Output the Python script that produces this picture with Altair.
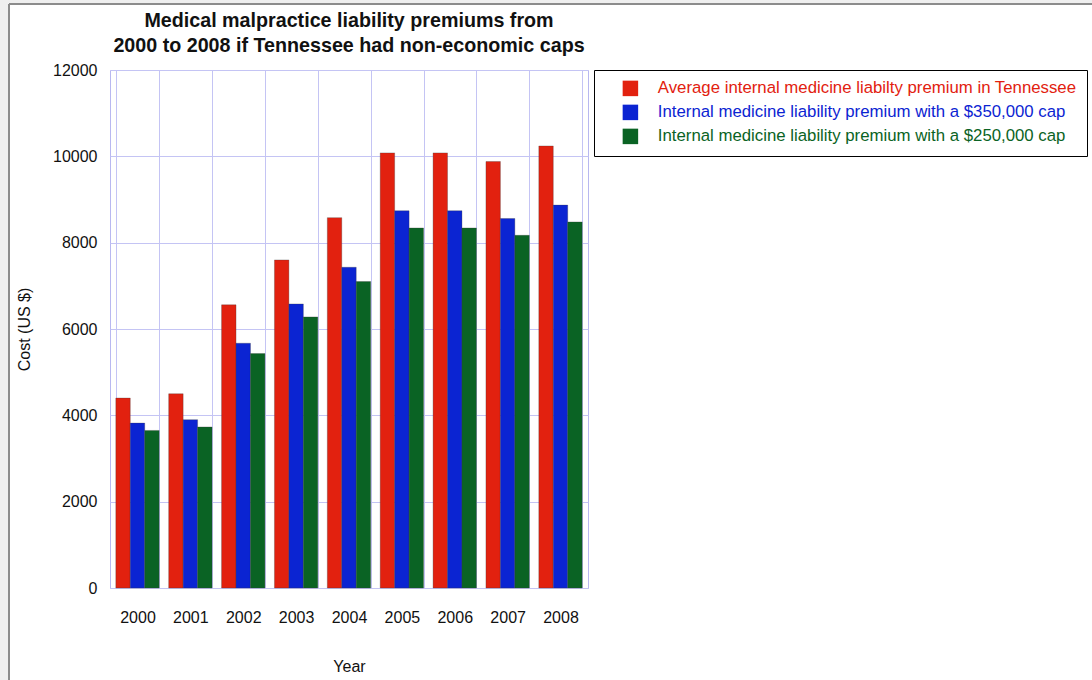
import altair as alt
import pandas as pd

# Annual internal medicine malpractice premiums (US $)
years = ["2000", "2001", "2002", "2003", "2004", "2005", "2006", "2007", "2008"]
series_names = [
    "Average internal medicine liabilty premium in Tennessee",
    "Internal medicine liability premium with a $350,000 cap",
    "Internal medicine liability premium with a $250,000 cap",
]
average_premium = [4400, 4500, 6560, 7600, 8580, 10080, 10080, 9880, 10240]
cap_350k = [3820, 3900, 5670, 6580, 7430, 8740, 8740, 8560, 8870]
cap_250k = [3650, 3730, 5430, 6280, 7100, 8340, 8340, 8170, 8480]
series_colors = ["#e2210f", "#0b24d2", "#0a6324"]

rows = []
for name, values in zip(series_names, [average_premium, cap_350k, cap_250k]):
    for year, value in zip(years, values):
        rows.append({"year": year, "series": name, "cost": value})
df = pd.DataFrame(rows)

FONT = "Liberation Sans"
GRID = "#c4c4f4"

label_color_expr = (
    f"datum.label == '{series_names[0]}' ? '{series_colors[0]}' : "
    f"datum.label == '{series_names[1]}' ? '{series_colors[1]}' : '{series_colors[2]}'"
)

bars = alt.Chart(df).mark_bar(stroke="#3a3a3a", strokeWidth=0.5, strokeOpacity=0.6).encode(
    x=alt.X(
        "year:N",
        sort=years,
        title="Year",
        scale=alt.Scale(paddingInner=0.18, paddingOuter=0.11),
        axis=alt.Axis(
            tickBand="extent",
            grid=True,
            gridColor=GRID,
            ticks=False,
            domain=False,
            labelAngle=0,
            labelPadding=21,
            labelFontSize=16,
            labelFont=FONT,
            labelColor="#111",
            titleFontSize=16,
            titleFont=FONT,
            titleFontWeight="normal",
            titleColor="#111",
            titlePadding=33,
        ),
    ),
    xOffset=alt.XOffset("series:N", sort=series_names,
                        scale=alt.Scale(paddingInner=0, paddingOuter=0)),
    y=alt.Y(
        "cost:Q",
        title="Cost (US $)",
        scale=alt.Scale(domain=[0, 12000], nice=False),
        axis=alt.Axis(
            values=[0, 2000, 4000, 6000, 8000, 10000, 12000],
            format="d",
            grid=True,
            gridColor=GRID,
            ticks=False,
            domain=False,
            labelPadding=13,
            labelFontSize=16,
            labelFont=FONT,
            labelColor="#111",
            titleFontSize=16,
            titleFont=FONT,
            titleFontWeight="normal",
            titleColor="#111",
            titlePadding=20,
        ),
    ),
    color=alt.Color(
        "series:N",
        sort=series_names,
        scale=alt.Scale(domain=series_names, range=series_colors),
        legend=alt.Legend(
            title=None,
            orient="none",
            legendX=484,
            legendY=0,
            strokeColor="#000",
            fillColor="#fff",
            padding=10,
            symbolType="square",
            symbolSize=240,
            symbolStrokeWidth=0,
            symbolOffset=18,
            labelOffset=19,
            labelFontSize=16.8,
            labelFont=FONT,
            labelLimit=0,
            labelColor=alt.ExprRef(label_color_expr),
            rowPadding=6,
        ),
    ),
)

# Gray window frame along the left and top edges
frame_left = alt.Chart(df).mark_rect(color="#efefef").encode(
    x=alt.value(-110), x2=alt.value(-101), y=alt.value(-70), y2=alt.value(610)
)
frame_left_line = alt.Chart(df).mark_rule(color="#8c8c8c", strokeWidth=2).encode(
    x=alt.value(-101), y=alt.value(-66), y2=alt.value(610)
)
frame_top = alt.Chart(df).mark_rect(color="#efefef").encode(
    x=alt.value(-110), x2=alt.value(982), y=alt.value(-70), y2=alt.value(-66)
)
frame_top_line = alt.Chart(df).mark_rule(color="#8c8c8c", strokeWidth=2).encode(
    x=alt.value(-101), x2=alt.value(982), y=alt.value(-66)
)

chart = (
    alt.layer(frame_left, frame_top, frame_left_line, frame_top_line, bars)
    .properties(
        width=478,
        height=518,
        title=alt.TitleParams(
            text=["Medical malpractice liability premiums from",
                  "2000 to 2008 if Tennessee had non-economic caps"],
            font=FONT,
            fontSize=19.7,
            fontWeight="bold",
            color="#111",
            anchor="middle",
            offset=0,
            dy=56,
            lineHeight=25,
        ),
        autosize=alt.AutoSizeParams(type="none"),
        padding={"left": 110, "top": 70, "right": 504, "bottom": 92},
        background="white",
    )
    .configure_view(stroke="#b8b8f0", strokeWidth=1)
)

chart.save("out.html", embed_options={"renderer": "svg", "actions": False})
